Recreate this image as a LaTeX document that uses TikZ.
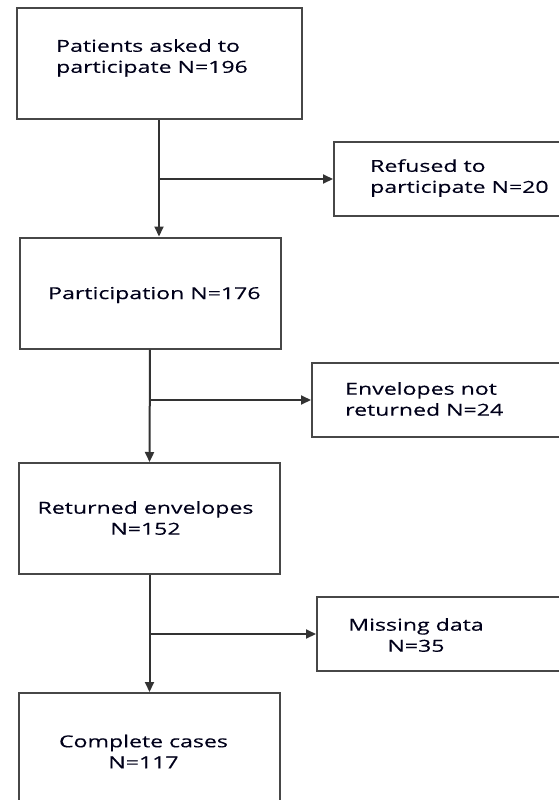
\documentclass[tikz,border=0pt]{standalone}
\usepackage{fontspec}
\setmainfont{Open Sans}[FakeStretch=1.4,FakeBold=0.3]
\usetikzlibrary{arrows.meta}

\begin{document}
\begin{tikzpicture}[x=1pt,y=-1pt,
  box/.style={draw=black!72,line width=2pt,inner sep=0pt},
  lbox/.style={box,minimum width=261pt,minimum height=111pt},
  rbox/.style={box,anchor=west,minimum width=270pt,minimum height=74pt},
  txt/.style={font=\fontsize{16.5}{21}\selectfont,text=black!90!blue,inner sep=0pt},
  link/.style={draw=black!80,line width=2pt,-{Triangle[length=10pt,width=9pt]}}]
  \useasboundingbox (0,0) rectangle (559,800);
  \clip (0,0) rectangle (559,800);
  % main column
  \node[box,minimum width=285pt,minimum height=111pt] (asked) at (159,63.5) {};
  \node[lbox] (particip) at (150,293) {};
  \node[lbox] (returned) at (149.5,518.5) {};
  \node[lbox] (complete) at (149.5,748.5) {};
  % side boxes
  \node[rbox] (refused) at (333,179) {};
  \node[rbox] (notret) at (311,400) {};
  \node[rbox] (missing) at (316,634) {};
  % texts
  \node[txt,anchor=west,align=left] (askedtxt) at (56,58) {Patients asked to\\participate N=196};
  \node[txt,anchor=west] (participtxt) at (48,295) {Participation N=176};
  \node[txt,align=center] (returnedtxt) at (145.5,518) {Returned envelopes\\N=152};
  \node[txt,align=center] (completetxt) at (143.5,751.5) {Complete cases\\N=117};
  \node[txt,anchor=west,align=left] (refusedtxt) at (370,178) {Refused to\\participate N=20};
  \node[txt,anchor=west,align=left] (notrettxt) at (345,399) {Envelopes not\\returned N=24};
  \node[txt,align=center] (missingtxt) at (416,635) {Missing data\\N=35};
  % connectors
  \coordinate (fork1) at (asked.south |- refused.west);
  \coordinate (fork2) at (particip.south |- notret.west);
  \coordinate (fork3) at (returned.south |- missing.west);
  \draw[link] (asked.south) -- (asked.south |- particip.north);
  \draw[link] (particip.south) -- (returned.north);
  \draw[link] (returned.south) -- (complete.north);
  \draw[link] (fork1) -- (refused.west);
  \draw[link] (fork2) -- (notret.west);
  \draw[link] (fork3) -- (missing.west);
\end{tikzpicture}
\end{document}
